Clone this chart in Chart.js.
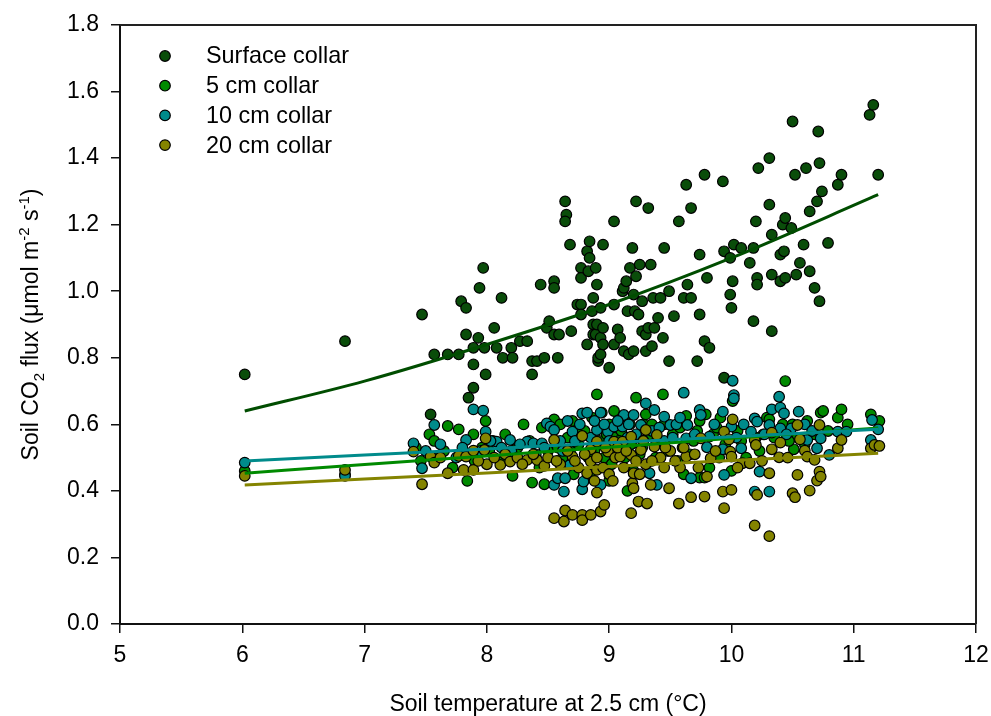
<!DOCTYPE html>
<html>
<head>
<meta charset="utf-8">
<title>Soil CO2 flux vs soil temperature</title>
<script src="https://cdn.jsdelivr.net/npm/chart.js@4.4.1/dist/chart.umd.min.js"></script>
<style>
  html, body { margin: 0; padding: 0; background: #fff; }
  canvas { display: block; }
</style>
</head>
<body>
<canvas id="flux" width="991" height="716"></canvas>
<script>
// Soil CO2 flux by collar depth against soil temperature, with fitted curves.

const FONT = '"Liberation Sans", Arial, Helvetica, sans-serif';

const SERIES_LABELS = ["Surface collar", "5 cm collar", "10 cm collar", "20 cm collar"];
const SERIES_COLORS = ["#0a4d0a", "#008a00", "#008b8b", "#848400"];

const X_TICKS = [5, 6, 7, 8, 9, 10, 11, 12];
const Y_TICKS = [0, 0.2, 0.4, 0.6, 0.8, 1.0, 1.2, 1.4, 1.6, 1.8];

// [temperature, flux]
const surfacePts = [
  [6.02,0.75],[6.84,0.85],[7.47,0.93],[7.54,0.63],[7.57,0.81],[7.68,0.81],[7.77,0.81],[7.79,0.97],
  [7.83,0.95],[7.83,0.87],[7.85,0.68],[7.89,0.71],[7.89,0.83],[7.89,0.78],[7.93,0.86],[7.94,1.01],
  [7.97,1.07],[7.98,0.83],[7.99,0.75],[8.06,0.89],[8.08,0.83],[8.12,0.98],[8.13,0.80],[8.20,0.83],
  [8.21,0.80],[8.27,0.85],[8.33,0.85],[8.37,0.79],[8.37,0.75],[8.41,0.79],[8.44,1.02],[8.47,0.80],
  [8.49,0.89],[8.51,0.91],[8.55,1.03],[8.55,1.01],[8.55,0.87],[8.58,0.80],[8.59,0.87],[8.64,1.27],
  [8.65,1.23],[8.64,1.21],[8.68,1.14],[8.69,0.88],[8.74,0.96],[8.77,1.07],[8.77,1.04],[8.77,0.96],
  [8.77,0.93],[8.82,1.12],[8.82,0.84],[8.83,1.06],[8.84,1.15],[8.84,1.10],[8.86,0.94],[8.87,0.98],
  [8.87,0.90],[8.87,0.87],[8.89,1.07],[8.89,0.87],[8.90,1.02],[8.90,0.90],[8.91,0.79],[8.91,0.80],
  [8.93,0.95],[8.93,0.86],[8.93,0.81],[8.95,1.14],[8.95,0.89],[8.95,0.84],[9.00,0.77],[9.04,1.21],
  [9.04,0.96],[9.04,0.84],[9.07,0.885],[9.09,0.86],[9.11,1.00],[9.12,1.01],[9.12,0.82],[9.14,1.03],
  [9.15,0.94],[9.16,0.81],[9.17,1.07],[9.19,1.13],[9.20,0.99],[9.20,0.82],[9.21,0.94],[9.22,1.27],
  [9.22,1.045],[9.24,0.93],[9.25,1.08],[9.27,0.97],[9.27,0.88],[9.30,0.87],[9.30,0.82],[9.32,1.25],
  [9.32,0.89],[9.34,1.08],[9.35,0.835],[9.36,0.98],[9.37,0.89],[9.40,0.92],[9.42,0.98],[9.44,0.86],
  [9.45,1.13],[9.49,1.00],[9.49,0.79],[9.53,0.925],[9.57,1.21],[9.61,0.98],[9.63,1.32],[9.64,1.02],
  [9.67,1.25],[9.67,0.98],[9.72,0.79],[9.74,1.11],[9.74,0.93],[9.78,1.35],[9.78,0.85],[9.80,1.04],
  [9.82,0.83],[9.93,1.33],[9.94,1.12],[9.94,0.74],[9.99,1.10],[9.99,0.99],[10.00,0.95],[10.01,1.03],
  [10.02,1.14],[10.08,1.13],[10.15,1.085],[10.18,1.13],[10.18,0.91],[10.20,1.21],[10.21,1.04],
  [10.21,1.02],[10.22,1.37],[10.31,1.40],[10.31,1.26],[10.33,1.17],[10.33,1.05],[10.33,0.88],
  [10.40,1.11],[10.40,1.03],[10.42,1.20],[10.43,1.12],[10.44,1.22],[10.44,1.04],[10.49,1.19],
  [10.50,1.51],[10.52,1.35],[10.53,1.05],[10.56,1.085],[10.59,1.14],[10.61,1.37],[10.64,1.24],
  [10.64,1.06],[10.68,1.01],[10.70,1.27],[10.71,1.48],[10.72,1.385],[10.72,0.97],[10.74,1.30],
  [10.79,1.145],[10.87,1.32],[10.90,1.35],[11.13,1.53],[11.16,1.56],[11.20,1.35]
];

const cm5Pts = [
  [6.02,0.46],[6.84,0.45],[7.46,0.49],[7.53,0.57],[7.57,0.55],[7.65,0.52],[7.68,0.595],[7.77,0.585],
  [7.84,0.43],[7.89,0.57],[7.90,0.49],[7.96,0.53],[7.99,0.61],[8.05,0.55],[8.11,0.49],[8.15,0.57],
  [8.21,0.445],[8.25,0.53],[8.30,0.60],[8.37,0.425],[8.40,0.50],[8.45,0.59],[8.47,0.42],[8.50,0.52],
  [8.55,0.615],[8.60,0.60],[8.62,0.50],[8.66,0.56],[8.70,0.61],[8.71,0.45],[8.75,0.54],[8.80,0.58],
  [8.85,0.44],[8.88,0.52],[8.90,0.69],[8.94,0.635],[8.96,0.50],[9.00,0.43],[9.00,0.60],[9.04,0.64],
  [9.04,0.56],[9.05,0.52],[9.10,0.58],[9.15,0.40],[9.15,0.62],[9.18,0.54],[9.20,0.46],[9.22,0.68],
  [9.25,0.51],[9.28,0.60],[9.30,0.63],[9.33,0.57],[9.38,0.50],[9.44,0.69],[9.44,0.54],[9.45,0.60],
  [9.52,0.57],[9.56,0.49],[9.60,0.53],[9.61,0.45],[9.63,0.625],[9.69,0.55],[9.74,0.61],[9.74,0.44],
  [9.78,0.44],[9.79,0.63],[9.82,0.47],[9.85,0.57],[9.90,0.50],[9.91,0.62],[9.95,0.54],[10.00,0.46],
  [10.01,0.67],[10.05,0.58],[10.12,0.50],[10.20,0.56],[10.23,0.52],[10.29,0.62],[10.31,0.615],
  [10.35,0.56],[10.42,0.60],[10.44,0.73],[10.50,0.60],[10.51,0.525],[10.54,0.56],[10.60,0.54],
  [10.62,0.61],[10.68,0.57],[10.73,0.635],[10.75,0.64],[10.79,0.58],[10.87,0.62],[10.90,0.645],
  [10.95,0.60],[11.14,0.63],[11.21,0.61],
  [7.42,0.53],[7.60,0.50],[7.72,0.47],[8.02,0.52],[8.18,0.51],[8.35,0.55],[8.43,0.47],[8.58,0.53],
  [8.68,0.52],[8.73,0.58],[8.83,0.50],[8.86,0.62],[8.92,0.55],[8.98,0.57],[9.02,0.48],[9.08,0.55],
  [9.13,0.50],[9.17,0.60],[9.23,0.56],[9.27,0.53],[9.35,0.60],[9.40,0.55],[9.48,0.52],[9.58,0.59],
  [9.66,0.51],[9.72,0.58],[9.88,0.59],[10.08,0.55],[10.26,0.57],[10.47,0.55]
];

const cm10Pts = [
  [6.02,0.485],[6.84,0.445],[7.40,0.543],[7.47,0.468],[7.57,0.598],[7.75,0.50],[7.83,0.553],
  [7.89,0.645],[7.95,0.52],[7.97,0.641],[7.99,0.578],[8.08,0.548],[8.19,0.553],[8.20,0.52],
  [8.33,0.548],[8.38,0.543],[8.40,0.51],[8.45,0.543],[8.49,0.603],[8.52,0.593],[8.55,0.583],
  [8.55,0.418],[8.58,0.438],[8.60,0.55],[8.63,0.398],[8.64,0.438],[8.68,0.478],[8.70,0.578],
  [8.78,0.633],[8.78,0.405],[8.79,0.428],[8.82,0.635],[8.85,0.56],[8.90,0.583],[8.93,0.635],
  [8.93,0.418],[8.99,0.578],[9.00,0.55],[9.04,0.593],[9.11,0.593],[9.12,0.628],[9.15,0.56],
  [9.20,0.628],[9.26,0.598],[9.30,0.663],[9.33,0.453],[9.35,0.58],[9.37,0.643],[9.39,0.418],
  [9.45,0.623],[9.45,0.55],[9.50,0.598],[9.55,0.60],[9.61,0.695],[9.63,0.558],[9.64,0.598],
  [9.67,0.438],[9.70,0.57],[9.74,0.643],[9.75,0.628],[9.80,0.531],[9.82,0.563],[9.93,0.638],
  [9.93,0.525],[9.94,0.448],[10.00,0.593],[10.01,0.731],[10.02,0.688],[10.02,0.678],[10.08,0.528],
  [10.10,0.60],[10.16,0.578],[10.19,0.618],[10.19,0.398],[10.21,0.608],[10.23,0.458],[10.31,0.598],
  [10.31,0.398],[10.33,0.645],[10.39,0.683],[10.40,0.65],[10.40,0.588],[10.43,0.633],[10.49,0.588],
  [10.55,0.638],[10.60,0.60],[10.62,0.553],[10.70,0.528],[10.73,0.558],[10.80,0.508],[10.87,0.578],
  [10.94,0.578],[11.14,0.553],[11.15,0.613],[11.20,0.585],
  [7.50,0.52],[7.62,0.54],[7.80,0.53],[8.03,0.55],[8.12,0.53],[8.27,0.54],[8.47,0.53],[8.62,0.52],
  [8.66,0.61],[8.72,0.55],[8.76,0.60],[8.88,0.61],[8.96,0.60],[9.02,0.52],[9.07,0.61],[9.16,0.60],
  [9.22,0.57],[9.28,0.55],[9.41,0.59],[9.52,0.56],[9.58,0.62],[9.86,0.60],[10.04,0.56],[10.27,0.57],
  [10.45,0.57],[10.66,0.58]
];

const cm20Pts = [
  [6.02,0.445],[6.84,0.463],[7.40,0.518],[7.47,0.42],[7.54,0.503],[7.57,0.485],[7.68,0.453],
  [7.77,0.505],[7.81,0.463],[7.83,0.503],[7.89,0.463],[7.89,0.521],[7.98,0.523],[7.99,0.558],
  [8.00,0.48],[8.11,0.478],[8.15,0.51],[8.19,0.488],[8.25,0.50],[8.33,0.493],[8.41,0.493],
  [8.47,0.475],[8.50,0.50],[8.55,0.553],[8.55,0.318],[8.60,0.48],[8.63,0.308],[8.64,0.341],
  [8.70,0.503],[8.70,0.328],[8.75,0.47],[8.78,0.565],[8.78,0.328],[8.78,0.312],[8.82,0.453],
  [8.85,0.488],[8.85,0.525],[8.85,0.328],[8.90,0.548],[8.90,0.50],[8.90,0.463],[8.90,0.395],
  [8.93,0.338],[8.95,0.47],[8.96,0.358],[8.99,0.518],[9.00,0.45],[9.04,0.548],[9.05,0.50],
  [9.09,0.503],[9.11,0.548],[9.12,0.47],[9.18,0.563],[9.18,0.508],[9.18,0.333],[9.19,0.423],
  [9.20,0.453],[9.20,0.408],[9.24,0.368],[9.25,0.45],[9.26,0.523],[9.30,0.583],[9.30,0.48],
  [9.31,0.362],[9.34,0.418],[9.37,0.533],[9.39,0.568],[9.42,0.50],[9.45,0.47],[9.49,0.408],
  [9.50,0.52],[9.57,0.362],[9.58,0.47],[9.63,0.503],[9.67,0.381],[9.70,0.51],[9.75,0.558],
  [9.78,0.383],[9.80,0.443],[9.83,0.498],[9.93,0.398],[9.94,0.578],[9.94,0.348],[9.98,0.555],
  [9.99,0.518],[10.00,0.503],[10.00,0.403],[10.01,0.615],[10.09,0.483],[10.15,0.483],[10.19,0.553],
  [10.19,0.296],[10.20,0.538],[10.21,0.388],[10.31,0.264],[10.31,0.453],[10.33,0.575],[10.33,0.525],
  [10.39,0.501],[10.40,0.545],[10.50,0.393],[10.52,0.381],[10.54,0.598],[10.54,0.448],[10.56,0.555],
  [10.60,0.521],[10.62,0.503],[10.64,0.401],[10.68,0.493],[10.70,0.431],[10.72,0.598],[10.72,0.458],
  [10.73,0.443],[10.87,0.528],[10.90,0.553],[11.14,0.528],[11.17,0.538],[11.21,0.535],
  [7.62,0.50],[7.93,0.49],[8.06,0.50],[8.29,0.48],[8.38,0.51],[8.57,0.49],[8.66,0.52],[8.72,0.49],
  [8.80,0.51],[8.88,0.43],[8.97,0.53],[9.03,0.43],[9.07,0.53],[9.14,0.52],[9.22,0.49],[9.28,0.55],
  [9.35,0.49],[9.46,0.53],[9.54,0.49],[9.61,0.53],[9.73,0.47],[9.87,0.52],[10.05,0.47],[10.25,0.49],
  [10.46,0.50]
];

// fitted curves, sampled along the temperature range
const fitX = [6.02, 7, 8, 9, 10, 11.2];
const surfaceFit = [0.64, 0.73, 0.84, 0.96, 1.10, 1.29];
const cm5Fit = [0.453, 0.479, 0.505, 0.531, 0.558, 0.589];
const cm10Fit = [0.49, 0.508, 0.526, 0.545, 0.563, 0.585];
const cm20Fit = [0.418, 0.436, 0.454, 0.473, 0.491, 0.513];

const MARK_R = 5.3;

const toXY = pts => pts.map(([x, y]) => ({ x, y }));
const fitXY = ys => fitX.map((x, i) => ({ x, y: ys[i] }));

function pointSet(i, pts, order) {
  return {
    label: SERIES_LABELS[i],
    data: toXY(pts),
    backgroundColor: SERIES_COLORS[i],
    borderColor: "#000",
    borderWidth: 1.2,
    pointRadius: MARK_R,
    showLine: false,
    order,
  };
}

function fitSet(i, ys, order, color) {
  return {
    label: SERIES_LABELS[i] + " fit",
    data: fitXY(ys),
    borderColor: color || SERIES_COLORS[i],
    borderWidth: 3,
    pointRadius: 0,
    showLine: true,
    fill: false,
    cubicInterpolationMode: "monotone",
    order,
  };
}

// legend drawn inside the plot, markers only
const insideLegend = {
  id: "insideLegend",
  afterDraw(chart) {
    const { ctx } = chart;
    ctx.save();
    ctx.font = `23.4px ${FONT}`;
    ctx.textBaseline = "middle";
    ctx.textAlign = "left";
    SERIES_LABELS.forEach((label, i) => {
      const y = 56 + i * 29.7;
      ctx.beginPath();
      ctx.arc(165, y, MARK_R, 0, Math.PI * 2);
      ctx.fillStyle = SERIES_COLORS[i];
      ctx.fill();
      ctx.lineWidth = 1.2;
      ctx.strokeStyle = "#000";
      ctx.stroke();
      ctx.fillStyle = "#000";
      ctx.fillText(label, 206, y + 1);
    });
    ctx.restore();
  },
};

// box round the plot and the two axis titles
const frameAndTitles = {
  id: "frameAndTitles",
  afterDraw(chart) {
    const { ctx, chartArea: a } = chart;
    ctx.save();
    ctx.strokeStyle = "#222";
    ctx.lineWidth = 2;
    ctx.beginPath();
    ctx.moveTo(a.left, a.top);
    ctx.lineTo(a.right, a.top);
    ctx.lineTo(a.right, a.bottom);
    ctx.stroke();

    ctx.fillStyle = "#000";
    ctx.font = `23px ${FONT}`;
    ctx.textAlign = "center";
    ctx.textBaseline = "middle";
    ctx.fillText("Soil temperature at 2.5 cm (\u00b0C)", (a.left + a.right) / 2, 705);

    const parts = [
      ["Soil CO", 0, 23], ["2", 6, 15], [" flux (\u03bcmol m", 0, 23],
      ["-2", -9, 15], [" s", 0, 23], ["-1", -9, 15], [")", 0, 23],
    ];
    let total = 0;
    parts.forEach(p => { ctx.font = `${p[2]}px ${FONT}`; p.push(ctx.measureText(p[0]).width); total += p[3]; });
    ctx.translate(38, (a.top + a.bottom) / 2);
    ctx.rotate(-Math.PI / 2);
    ctx.textAlign = "left";
    ctx.textBaseline = "alphabetic";
    let x = -total / 2;
    parts.forEach(([text, dy, size, w]) => {
      ctx.font = `${size}px ${FONT}`;
      ctx.fillText(text, x, dy);
      x += w;
    });
    ctx.restore();
  },
};

Chart.defaults.font.family = FONT;
Chart.defaults.font.size = 23;
Chart.defaults.color = "#000";

// markers underneath, fitted curves on top
new Chart(document.getElementById("flux"), {
  type: "scatter",
  data: {
    datasets: [
      pointSet(0, surfacePts, 8),
      pointSet(1, cm5Pts, 7),
      pointSet(2, cm10Pts, 6),
      pointSet(3, cm20Pts, 5),
      fitSet(0, surfaceFit, 4, "#004d00"),
      fitSet(1, cm5Fit, 3),
      fitSet(2, cm10Fit, 2),
      fitSet(3, cm20Fit, 1),
    ],
  },
  options: {
    responsive: false,
    animation: false,
    layout: { padding: { left: 0, right: 15, top: 25, bottom: 0 } },
    plugins: { legend: { display: false }, tooltip: { enabled: false } },
    scales: {
      x: {
        type: "linear",
        min: X_TICKS[0],
        max: X_TICKS[X_TICKS.length - 1],
        afterBuildTicks: s => { s.ticks = X_TICKS.map(v => ({ value: v })); },
        afterFit: s => { s.height = 92; s.paddingLeft = 0; s.paddingRight = 0; },
        ticks: { padding: 9, maxRotation: 0, callback: v => String(v) },
        grid: { drawOnChartArea: false, drawTicks: true, tickLength: 9, color: "#111", lineWidth: 1.5 },
        border: { display: true, color: "#111", width: 2 },
      },
      y: {
        type: "linear",
        min: Y_TICKS[0],
        max: Y_TICKS[Y_TICKS.length - 1],
        afterBuildTicks: s => { s.ticks = Y_TICKS.map(v => ({ value: v })); },
        afterFit: s => { s.width = 120; s.paddingTop = 0; s.paddingBottom = 0; },
        ticks: { padding: 12, callback: v => v.toFixed(1) },
        grid: { drawOnChartArea: false, drawTicks: true, tickLength: 9, color: "#111", lineWidth: 1.5 },
        border: { display: true, color: "#111", width: 2 },
      },
    },
  },
  plugins: [insideLegend, frameAndTitles],
});
</script>
</body>
</html>
